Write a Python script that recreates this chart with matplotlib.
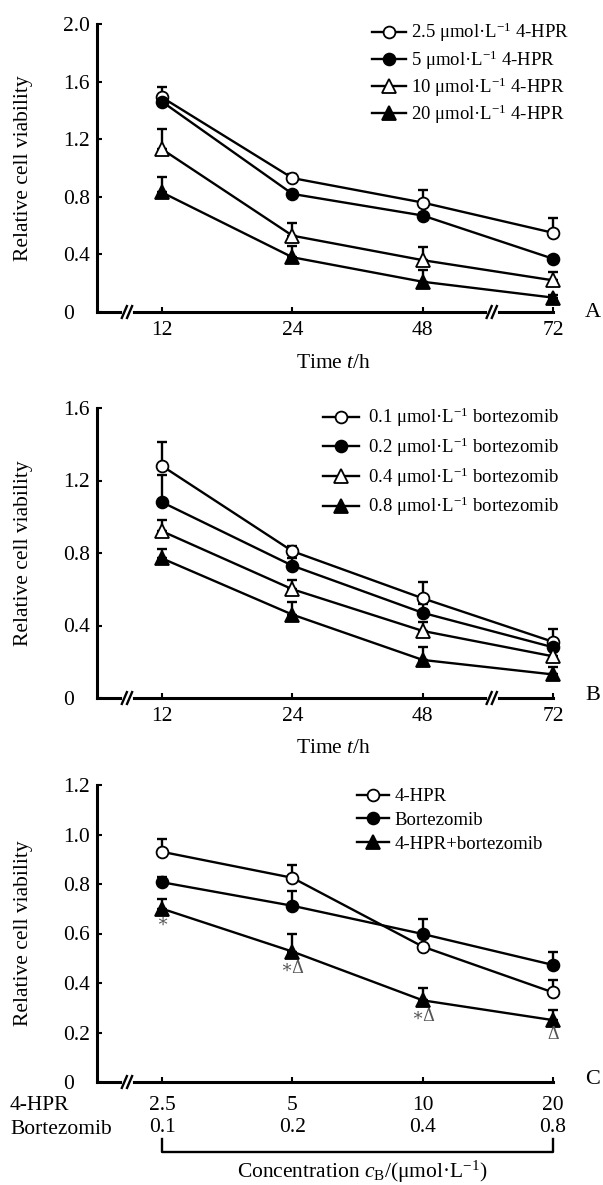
import matplotlib
matplotlib.use('Agg')
import matplotlib.pyplot as plt
import matplotlib.transforms as mtransforms

plt.rcParams['font.family'] = ['Liberation Serif', 'DejaVu Serif']
plt.rcParams['mathtext.fontset'] = 'custom'
plt.rcParams['mathtext.rm'] = 'Liberation Serif'
plt.rcParams['mathtext.it'] = 'Liberation Serif:italic'
plt.rcParams['mathtext.bf'] = 'Liberation Serif:bold'

# ---------------- data ----------------
time_labels = ['12', '24', '48', '72']

# Panel A: 4-HPR
a_labels = ['2.5 μmol·L$^{-1}$ 4-HPR', '5 μmol·L$^{-1}$ 4-HPR',
            '10 μmol·L$^{-1}$ 4-HPR', '20 μmol·L$^{-1}$ 4-HPR']
a_25 = [1.49, 0.93, 0.76, 0.55]
a_25_err = [0.07, 0.03, 0.09, 0.10]
a_5 = [1.46, 0.82, 0.67, 0.37]
a_5_err = [0.02, 0.02, 0.02, 0.02]
a_10 = [1.13, 0.53, 0.36, 0.22]
a_10_err = [0.14, 0.09, 0.09, 0.06]
a_20 = [0.83, 0.38, 0.21, 0.10]
a_20_err = [0.11, 0.08, 0.08, 0.02]

# Panel B: bortezomib
b_labels = ['0.1 μmol·L$^{-1}$ bortezomib', '0.2 μmol·L$^{-1}$ bortezomib',
            '0.4 μmol·L$^{-1}$ bortezomib', '0.8 μmol·L$^{-1}$ bortezomib']
b_01 = [1.28, 0.81, 0.55, 0.31]
b_01_err = [0.13, 0.03, 0.09, 0.07]
b_02 = [1.08, 0.73, 0.47, 0.28]
b_02_err = [0.15, 0.04, 0.05, 0.03]
b_04 = [0.92, 0.60, 0.37, 0.23]
b_04_err = [0.06, 0.05, 0.05, 0.04]
b_08 = [0.77, 0.46, 0.21, 0.13]
b_08_err = [0.05, 0.07, 0.07, 0.04]

# Panel C: combination
c_labels = ['4-HPR', 'Bortezomib', '4-HPR+bortezomib']
c_hpr_conc = ['2.5', '5', '10', '20']
c_btz_conc = ['0.1', '0.2', '0.4', '0.8']
c_hpr = [0.93, 0.825, 0.547, 0.362]
c_hpr_err = [0.05, 0.05, 0.05, 0.05]
c_btz = [0.807, 0.712, 0.598, 0.473]
c_btz_err = [0.02, 0.058, 0.059, 0.054]
c_combo = [0.70, 0.527, 0.33, 0.25]
c_combo_err = [0.04, 0.07, 0.05, 0.04]
c_marks = ['∗', '∗Δ', '∗Δ', 'Δ']
c_marks_y = [0.645, 0.46, 0.265, 0.19]

# ---------------- layout ----------------
W, H = 603, 1185
fig = plt.figure(figsize=(W / 100, H / 100), dpi=100)
FS = 15.5


def ax_at(l, t, r, b):
    return fig.add_axes([l / W, 1 - b / H, (r - l) / W, (b - t) / H])


styles = [dict(marker='o', mfc='white'), dict(marker='o', mfc='black'),
          dict(marker='^', mfc='white'), dict(marker='^', mfc='black')]


def draw_series(ax, x, y, err, label, st):
    ax.errorbar(x, y, yerr=[[0] * len(err), err], fmt='none', ecolor='black',
                elinewidth=1.7, capsize=3.8, capthick=1.7, zorder=2, clip_on=False)
    ms = 8.5 if st['marker'] == 'o' else 9.5
    ax.plot(x, y, color='black', lw=1.7, marker=st['marker'], mfc=st['mfc'],
            mec='black', mew=1.3, ms=ms, label=label, zorder=3, clip_on=False)


def style_axes(ax, ylim, yticks, yticklabels, xpx_per_unit, hpx, breaks, xpad):
    ax.set_xlim(-0.5, 3)
    ax.set_ylim(*ylim)
    for s in ['top', 'right']:
        ax.spines[s].set_visible(False)
    for s in ['left', 'bottom']:
        ax.spines[s].set_linewidth(2.2)
    ax.set_yticks(yticks)
    ax.set_yticklabels(yticklabels)
    ax.set_xticks(range(4))
    ax.tick_params(axis='both', direction='in', length=3.8, width=1.5,
                   labelsize=FS, color='black')
    ax.tick_params(axis='y', pad=24.5)
    ax.tick_params(axis='x', pad=xpad)
    for lbl in ax.get_yticklabels():
        lbl.set_horizontalalignment('left')
    trans = mtransforms.blended_transform_factory(ax.transData, ax.transAxes)
    for xd in breaks:
        ax.plot([xd - 3 / xpx_per_unit, xd + 3 / xpx_per_unit], [0, 0], color='white',
                lw=3.5, transform=trans, clip_on=False, zorder=6)
        for off in (-2.6, 2.6):
            ax.plot([xd + (off - 3) / xpx_per_unit, xd + (off + 3) / xpx_per_unit],
                    [-7 / hpx, 7 / hpx], color='black', lw=1.7, transform=trans,
                    clip_on=False, zorder=7, solid_capstyle='butt')


xs = list(range(4))
unit = (553 - 97) / 3.5

# Panel A
axA = ax_at(97, 24, 553, 312)
for y, e, lab, st in zip([a_25, a_5, a_10, a_20], [a_25_err, a_5_err, a_10_err, a_20_err],
                         a_labels, styles):
    draw_series(axA, xs, y, e, lab, st)
style_axes(axA, (0, 2.0), [0, 0.4, 0.8, 1.2, 1.6, 2.0], ['0', '0.4', '0.8', '1.2', '1.6', '2.0'],
           unit, 288, [-0.27, 2.53], 6.5)
axA.set_xticklabels(time_labels)
axA.set_ylabel('Relative cell viability', fontsize=FS)
axA.yaxis.set_label_coords(-0.14, 0.5)
axA.set_xlabel('Time $\\it{t}$/h', fontsize=FS)
axA.xaxis.set_label_coords(0.518, -0.145)
axA.legend(loc='upper left', bbox_to_anchor=(372 / W, 1 - 21 / H), bbox_transform=fig.transFigure,
           frameon=False, fontsize=13.5, borderpad=0, borderaxespad=0, handlelength=1.8,
           handletextpad=0.3, labelspacing=0.2)

# Panel B
axB = ax_at(97, 408, 553, 698)
for y, e, lab, st in zip([b_01, b_02, b_04, b_08], [b_01_err, b_02_err, b_04_err, b_08_err],
                         b_labels, styles):
    draw_series(axB, xs, y, e, lab, st)
style_axes(axB, (0, 1.6), [0, 0.4, 0.8, 1.2, 1.6], ['0', '0.4', '0.8', '1.2', '1.6'],
           unit, 290, [-0.27, 2.53], 6.5)
axB.set_xticklabels(time_labels)
axB.set_ylabel('Relative cell viability', fontsize=FS)
axB.yaxis.set_label_coords(-0.14, 0.5)
axB.set_xlabel('Time $\\it{t}$/h', fontsize=FS)
axB.xaxis.set_label_coords(0.518, -0.143)
axB.legend(loc='upper left', bbox_to_anchor=(323 / W, 1 - 406 / H), bbox_transform=fig.transFigure,
           frameon=False, fontsize=13.5, borderpad=0, borderaxespad=0, handlelength=1.9,
           handletextpad=0.5, labelspacing=0.33)

# Panel C
axC = ax_at(97, 785, 553, 1082)
for y, e, lab, st in zip([c_hpr, c_btz, c_combo], [c_hpr_err, c_btz_err, c_combo_err],
                         c_labels, [styles[0], styles[1], styles[3]]):
    draw_series(axC, xs, y, e, lab, st)
style_axes(axC, (0, 1.2), [0, 0.2, 0.4, 0.6, 0.8, 1.0, 1.2],
           ['0', '0.2', '0.4', '0.6', '0.8', '1.0', '1.2'], unit, 297, [-0.27], 10)
axC.set_xticklabels([f'{a}\n{b}' for a, b in zip(c_hpr_conc, c_btz_conc)], linespacing=1.22)
axC.set_ylabel('Relative cell viability', fontsize=FS)
axC.yaxis.set_label_coords(-0.14, 0.5)
for xi, (m, my) in enumerate(zip(c_marks, c_marks_y)):
    axC.text(xi, my, m, ha='center', va='center', fontsize=13, color='#555555')
axC.legend(loc='upper left', bbox_to_anchor=(357 / W, 1 - 788 / H), bbox_transform=fig.transFigure,
           frameon=False, fontsize=13.5, borderpad=0, borderaxespad=0, handlelength=1.7,
           handletextpad=0.3, labelspacing=0.36)

fig.text(10 / W, 1 - 1105 / H, '4-HPR', ha='left', va='center', fontsize=FS)
fig.text(10 / W, 1 - 1129 / H, 'Bortezomib', ha='left', va='center', fontsize=FS)
transC = mtransforms.blended_transform_factory(axC.transData, fig.transFigure)
axC.plot([0, 0, 3, 3], [1 - 1139 / H, 1 - 1152 / H, 1 - 1152 / H, 1 - 1139 / H], color='black',
         lw=1.7, transform=transC, clip_on=False)
fig.text(362 / W, 1 - 1172 / H, 'Concentration $\\it{c}_{\\rm B}$/(μmol·L$^{-1}$)',
         ha='center', va='center', fontsize=FS)

# Panel letters
fig.text(593 / W, 1 - 312 / H, 'A', ha='center', va='center', fontsize=16)
fig.text(593 / W, 1 - 695 / H, 'B', ha='center', va='center', fontsize=16)
fig.text(593 / W, 1 - 1079 / H, 'C', ha='center', va='center', fontsize=16)

fig.savefig('out.png', dpi=100, facecolor='white')
